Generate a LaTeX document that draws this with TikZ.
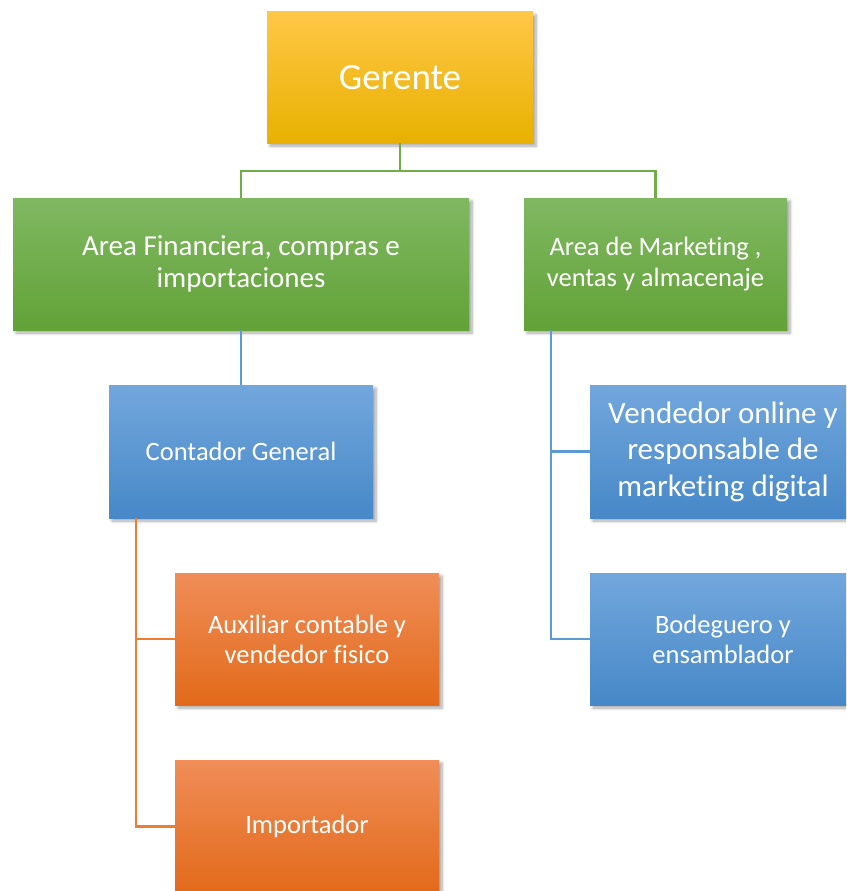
\documentclass[tikz,border=0pt]{standalone}
\usepackage{fontspec}
\setmainfont[Ligatures=NoCommon]{Carlito}
\usetikzlibrary{shadows.blur}
\definecolor{goldT}{HTML}{FFC746}\definecolor{goldM}{HTML}{FFC000}\definecolor{goldB}{HTML}{E8B100}
\definecolor{grnT}{HTML}{80B862}\definecolor{grnM}{HTML}{6DAF3F}\definecolor{grnB}{HTML}{62A237}
\definecolor{bluT}{HTML}{72A7DC}\definecolor{bluM}{HTML}{5B9BD5}\definecolor{bluB}{HTML}{4788C8}
\definecolor{orT}{HTML}{F08D58}\definecolor{orM}{HTML}{F47D2E}\definecolor{orB}{HTML}{E26A1A}
\definecolor{lgrn}{HTML}{70AD47}\definecolor{lblu}{HTML}{5B9BD5}\definecolor{lor}{HTML}{ED7D31}
\tikzset{
  box/.style={rectangle, inner sep=0pt, text=white, align=center,
    blur shadow={shadow xshift=3pt, shadow yshift=-3pt, shadow blur steps=6, shadow blur radius=3pt, shadow opacity=35}},
  goldbox/.style={box, top color=goldT, middle color=goldM, bottom color=goldB},
  grnbox/.style={box, top color=grnT, middle color=grnM, bottom color=grnB},
  blubox/.style={box, top color=bluT, middle color=bluM, bottom color=bluB},
  orbox/.style={box, top color=orT, middle color=orM, bottom color=orB},
  gline/.style={draw=lgrn, line width=2.6pt},
  bline/.style={draw=lblu, line width=2.6pt},
  oline/.style={draw=lor, line width=2.6pt},
}
\begin{document}
\begin{tikzpicture}[x=1pt,y=-1pt]
\useasboundingbox (0,0) rectangle (846,891);
\clip (0,0) rectangle (846,891);
\node[goldbox, minimum width=266pt, minimum height=131pt, font=\fontsize{37}{40}\selectfont] (ger) at (400,77.5) {Gerente};
\node[grnbox, minimum width=456pt, minimum height=132pt, font=\fontsize{29}{32}\selectfont] (fin) at (241,264) {Area Financiera, compras e\\importaciones};
\node[grnbox, minimum width=263pt, minimum height=132pt, font=\fontsize{26.5}{31}\selectfont] (mkt) at (655.5,264) {Area de Marketing ,\\ventas y almacenaje};
\node[blubox, minimum width=264pt, minimum height=133pt, font=\fontsize{26.5}{30}\selectfont] (cont) at (241,451.5) {Contador General};
\node[blubox, minimum width=266pt, minimum height=133pt, font=\fontsize{31}{36.5}\selectfont] (vend) at (723,451.5) {Vendedor online y\\responsable de\\marketing digital};
\node[orbox, minimum width=264pt, minimum height=132pt, font=\fontsize{26.5}{30}\selectfont] (aux) at (307,639) {Auxiliar contable y\\vendedor fisico};
\node[blubox, minimum width=266pt, minimum height=132pt, font=\fontsize{26.5}{30}\selectfont] (bod) at (723,639) {Bodeguero y\\ensamblador};
\node[orbox, minimum width=264pt, minimum height=133pt, font=\fontsize{26.5}{30}\selectfont] (imp) at (307,826.5) {Importador};
\coordinate (jg) at (400,171);
\coordinate (m0) at (551,330);
\coordinate (c0) at (136,518);
\draw[gline] (ger.south) -- (jg);
\draw[gline] (fin.north) |- (jg) -| (mkt.north);
\draw[bline] (fin.south) -- (cont.north);
\draw[bline] (m0) |- (vend.west);
\draw[bline] (m0) |- (bod.west);
\draw[oline] (c0) |- (aux.west);
\draw[oline] (c0) |- (imp.west);
\end{tikzpicture}
\end{document}
